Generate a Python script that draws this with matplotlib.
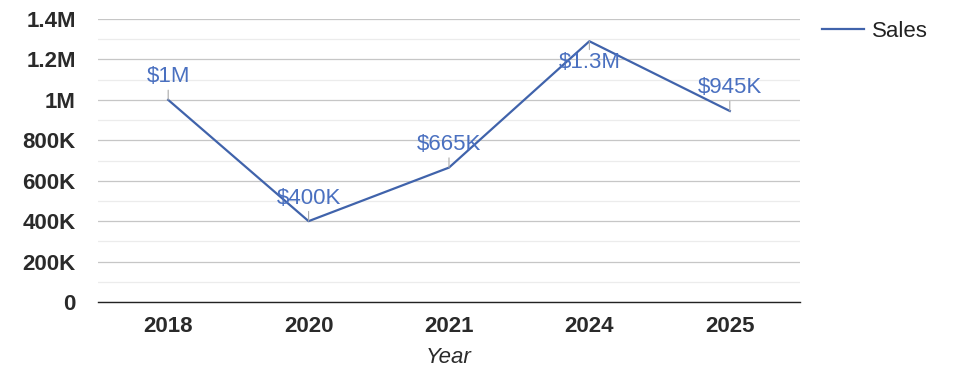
import matplotlib.pyplot as plt
from matplotlib.ticker import MultipleLocator, FuncFormatter

years = ["2018", "2020", "2021", "2024", "2025"]
sales = [1000000, 400000, 665000, 1290000, 945000]
labels = ["$1M", "$400K", "$665K", "$1.3M", "$945K"]
label_below = [False, False, False, True, False]

plt.rcParams["font.family"] = ["Liberation Sans", "DejaVu Sans"]

fig = plt.figure(figsize=(9.75, 3.78), dpi=100)
ax = fig.add_axes([0.1005, 0.201, 0.72, 0.7487])

x = range(len(years))
ax.plot(x, sales, color="#4063ab", linewidth=1.6, label="Sales")

for i, (v, lab, below) in enumerate(zip(sales, labels, label_below)):
    off = -8 if below else 9
    ax.annotate(lab, xy=(i, v), xytext=(0, off), textcoords="offset points",
                ha="center", va="top" if below else "bottom",
                fontsize=16, color="#4a70c0",
                arrowprops=dict(arrowstyle="-", color="#aaaaaa", lw=0.8,
                                shrinkA=0, shrinkB=0))

ax.set_xlim(-0.5, len(years) - 0.5)
ax.set_ylim(0, 1400000)
ax.set_xticks(list(x))
ax.set_xticklabels(years, fontsize=16, fontweight="bold", color="#2a2a2a")

def fmt(v, pos):
    if v == 0:
        return "0"
    if v >= 1000000:
        return f"{v / 1000000:g}M"
    return f"{v / 1000:g}K"

ax.yaxis.set_major_locator(MultipleLocator(200000))
ax.yaxis.set_minor_locator(MultipleLocator(100000))
ax.yaxis.set_major_formatter(FuncFormatter(fmt))
for t in ax.get_yticklabels():
    t.set_fontsize(16)
    t.set_fontweight("bold")
    t.set_color("#2a2a2a")

ax.grid(axis="y", which="major", color="#c6c6c6", linewidth=0.9)
ax.grid(axis="y", which="minor", color="#ececec", linewidth=0.9)
ax.set_axisbelow(True)
ax.tick_params(axis="both", which="both", length=0)
ax.tick_params(axis="y", pad=16)
ax.tick_params(axis="x", pad=10)

for s in ["top", "right", "left"]:
    ax.spines[s].set_visible(False)
ax.spines["bottom"].set_color("#222222")
ax.spines["bottom"].set_linewidth(1.0)

ax.set_xlabel("Year", fontsize=16, fontstyle="italic", color="#2a2a2a", labelpad=7)

ax.legend(loc="upper left", bbox_to_anchor=(1.003, 1.065), frameon=False,
          fontsize=16, handlelength=1.9, handletextpad=0.35, labelcolor="#222222")

fig.savefig("out.png", dpi=100)
